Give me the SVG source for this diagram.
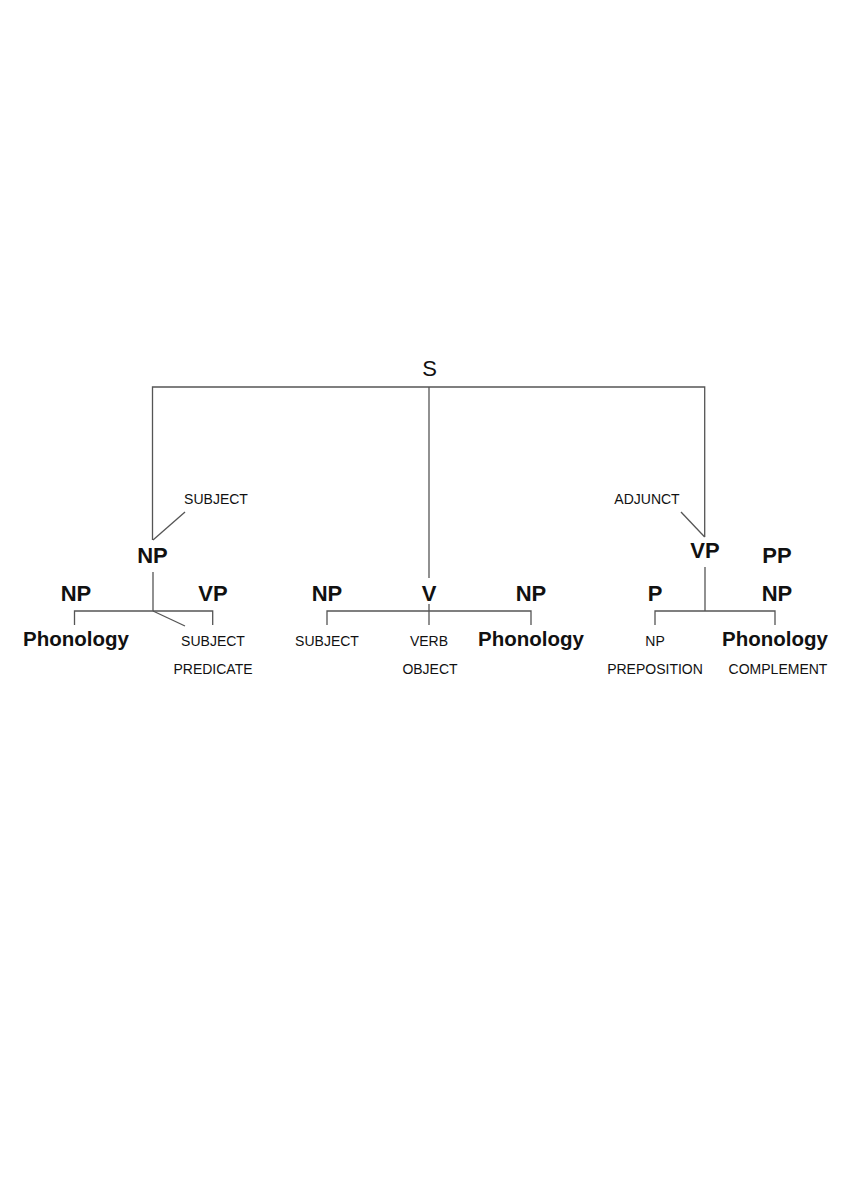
<svg xmlns="http://www.w3.org/2000/svg" width="864" height="1184" viewBox="0 0 864 1184">
<style>
.b{font-family:"Liberation Sans",Arial,sans-serif;font-weight:bold;font-size:22px;fill:#111;text-anchor:middle}
.p{font-family:"Liberation Sans",Arial,sans-serif;font-weight:bold;font-size:20.5px;fill:#111;text-anchor:middle}
.s{font-family:"Liberation Sans",Arial,sans-serif;font-size:14px;fill:#111;text-anchor:middle}
.r{font-family:"Liberation Sans",Arial,sans-serif;font-size:22px;fill:#111;text-anchor:middle}
.ln{stroke:#555;stroke-width:1.3;fill:none}
</style>
<rect width="864" height="1184" fill="#fff"/>
<g id="connectors" class="ln">
<path d="M152.5 540 V387 H704.7 V537"/>
<path d="M429 387 V578"/>
<path d="M153 540 L185 512"/>
<path d="M681 512 L704.7 537"/>
<path d="M153 572 V611"/>
<path d="M74.5 625 V611 H212.7 V625"/>
<path d="M153 611 L185 626"/>
<path d="M327 625 V611 H531 V625"/>
<path d="M429 604 V625"/>
<path d="M705 567 V611"/>
<path d="M655 625 V611 H775 V625"/>
</g>
<g id="S"><text class="r" x="429.5" y="376">S</text></g>
<g id="NP-subj"><text class="b" x="152.5" y="563">NP</text></g>
<g id="lbl-subject"><text class="s" x="216" y="504">SUBJECT</text></g>
<g id="lbl-adjunct"><text class="s" x="647" y="504">ADJUNCT</text></g>
<g id="VP-adj"><text class="b" x="705" y="558">VP</text></g>
<g id="PP"><text class="b" x="777" y="563">PP</text></g>
<g id="NP1"><text class="b" x="76" y="601">NP</text></g>
<g id="VP1"><text class="b" x="213" y="601">VP</text></g>
<g id="NP2"><text class="b" x="327" y="601">NP</text></g>
<g id="V"><text class="b" x="429" y="601">V</text></g>
<g id="NP3"><text class="b" x="531" y="601">NP</text></g>
<g id="P"><text class="b" x="655" y="601">P</text></g>
<g id="NP4"><text class="b" x="777" y="601">NP</text></g>
<g id="phon1"><text class="p" x="76" y="646">Phonology</text></g>
<g id="subj-pred"><text class="s" x="213" y="646">SUBJECT</text><text class="s" x="213" y="674">PREDICATE</text></g>
<g id="subj2"><text class="s" x="327" y="646">SUBJECT</text></g>
<g id="verb-obj"><text class="s" x="429" y="646">VERB</text><text class="s" x="430" y="674">OBJECT</text></g>
<g id="phon2"><text class="p" x="531" y="646">Phonology</text></g>
<g id="np-prep"><text class="s" x="655" y="646">NP</text><text class="s" x="655" y="674">PREPOSITION</text></g>
<g id="phon3"><text class="p" x="775" y="646">Phonology</text><text class="s" x="778" y="674">COMPLEMENT</text></g>
</svg>
